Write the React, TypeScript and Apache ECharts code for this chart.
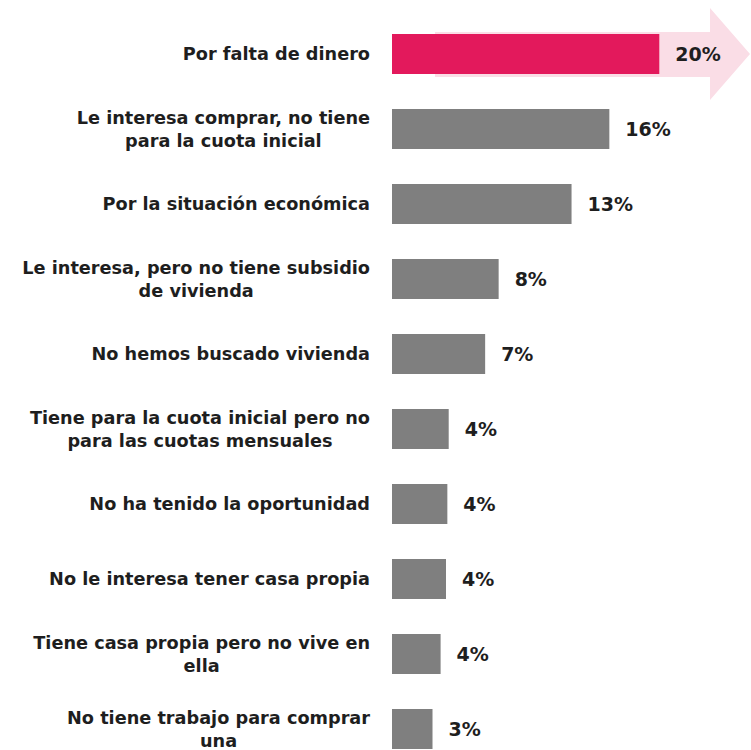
import { useEffect, useRef } from 'react';
import * as echarts from 'echarts';

const categories = [
  'Por falta de dinero',
  'Le interesa comprar, no tiene\npara la cuota inicial',
  'Por la situación económica',
  'Le interesa, pero no tiene subsidio\nde vivienda',
  'No hemos buscado vivienda',
  'Tiene para la cuota inicial pero no\npara las cuotas mensuales',
  'No ha tenido la oportunidad',
  'No le interesa tener casa propia',
  'Tiene casa propia pero no vive en\nella',
  'No tiene trabajo para comprar\nuna',
];
const values = [19.8, 16.1, 13.3, 7.9, 6.9, 4.2, 4.1, 4.0, 3.6, 3.0];
const highlightIndex = 0;
const xMax = 25;

const PINK = '#E3195C';
const GRAY = '#7F7F7F';
const ARROW = '#FADDE6';
const TEXT = '#1E1E1E';
const FONT = '"DejaVu Sans", sans-serif';

export default function App() {
  const ref = useRef<HTMLDivElement>(null);
  useEffect(() => {
    const chart = echarts.init(ref.current!, null, { renderer: 'svg' });
    chart.setOption({
      animation: false,
      grid: {
        left: 392,
        right: 21.5,
        top: 16.5,
        bottom: -16.5,
        containLabel: false,
        outerBoundsMode: 'none',
      },
      xAxis: { type: 'value', min: 0, max: xMax, show: false },
      yAxis: {
        type: 'category',
        data: categories,
        inverse: true,
        axisLine: { show: false },
        axisTick: { show: false },
        splitLine: { show: false },
        axisLabel: {
          margin: 22,
          formatter: (v: string) => v.split('\n').map((l) => `{c|${l}}`).join('\n'),
          rich: {
            c: {
              align: 'center',
              fontSize: 17.7,
              fontWeight: 'bold',
              fontFamily: FONT,
              color: TEXT,
              lineHeight: 23,
            },
          },
        },
      },
      graphic: [
        {
          type: 'polygon',
          z: 0,
          silent: true,
          shape: {
            points: [
              [435, 32],
              [710, 32],
              [710, 8],
              [750, 54],
              [710, 100],
              [710, 77],
              [435, 77],
            ],
          },
          style: { fill: ARROW },
        },
      ],
      series: [
        {
          type: 'bar',
          z: 5,
          barWidth: 40,
          data: values.map((v, i) => ({
            value: v,
            itemStyle: { color: i === highlightIndex ? PINK : GRAY },
          })),
          label: {
            show: true,
            position: 'right',
            distance: 16,
            fontSize: 19,
            fontWeight: 'bold',
            fontFamily: FONT,
            color: TEXT,
            formatter: (p: any) => `${Math.round(p.value)}%`,
          },
        },
      ],
    });
    return () => chart.dispose();
  }, []);
  return (
    <div
      ref={ref}
      style={{ position: 'absolute', left: 0, top: 0, width: 751, height: 750, background: '#fff' }}
    />
  );
}
